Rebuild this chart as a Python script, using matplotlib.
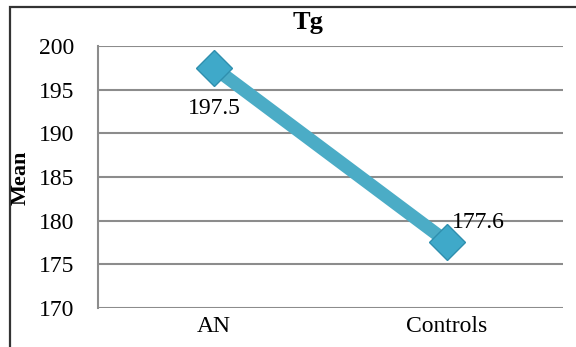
import matplotlib
matplotlib.use("Agg")
import matplotlib.pyplot as plt
from matplotlib.patches import Rectangle

categories = ["AN", "Controls"]
means = [197.5, 177.6]
yticks = [170, 175, 180, 185, 190, 195, 200]

plt.rcParams['font.family'] = ['Liberation Serif', 'DejaVu Serif']

W, H = 576, 347
fig = plt.figure(figsize=(W/100, H/100), dpi=100)
ax = fig.add_axes([98/W, 1-308/H, (563-98)/W, (308-46)/H])

x = list(range(len(categories)))
ax.plot(x, means, color='#4bacc6', lw=9.5, solid_capstyle='butt',
        marker='D', markersize=18, markerfacecolor='#3fa9c9',
        markeredgecolor='#2f8fae', markeredgewidth=1, zorder=3)

ax.set_xlim(-0.5, 1.5)
ax.set_ylim(170, 200)
ax.set_yticks(yticks)
ax.set_xticks(x)
ax.set_xticklabels(categories)
ax.tick_params(length=0, labelsize=17, pad=6)
ax.tick_params(axis='y', pad=17)
ax.yaxis.grid(True, color='#8c8c8c', lw=1.5)
ax.set_axisbelow(True)
for s in ['top', 'right', 'bottom']:
    ax.spines[s].set_visible(False)
ax.spines['left'].set_color('#8c8c8c')
ax.spines['left'].set_linewidth(1.5)

ax.annotate(f"{means[0]}", (x[0], means[0]), xytext=(0, -29), textcoords='offset points',
            ha='center', va='center', fontsize=17)
ax.annotate(f"{means[1]}", (x[1], means[1]), xytext=(23, 14), textcoords='offset points',
            ha='center', va='center', fontsize=17)

fig.text(308/W, 1-22/H, "Tg", ha='center', va='center', fontsize=19, fontweight='bold')
fig.text(21/W, 1-178/H, "Mean", ha='center', va='center', rotation=90, fontsize=16, fontweight='bold')

fig.patches.append(Rectangle((10/W, -0.1), 1.2, 1-7/H+0.1, transform=fig.transFigure,
                             fill=False, edgecolor='#333333', lw=1.6))

fig.savefig("out.png", dpi=100)
